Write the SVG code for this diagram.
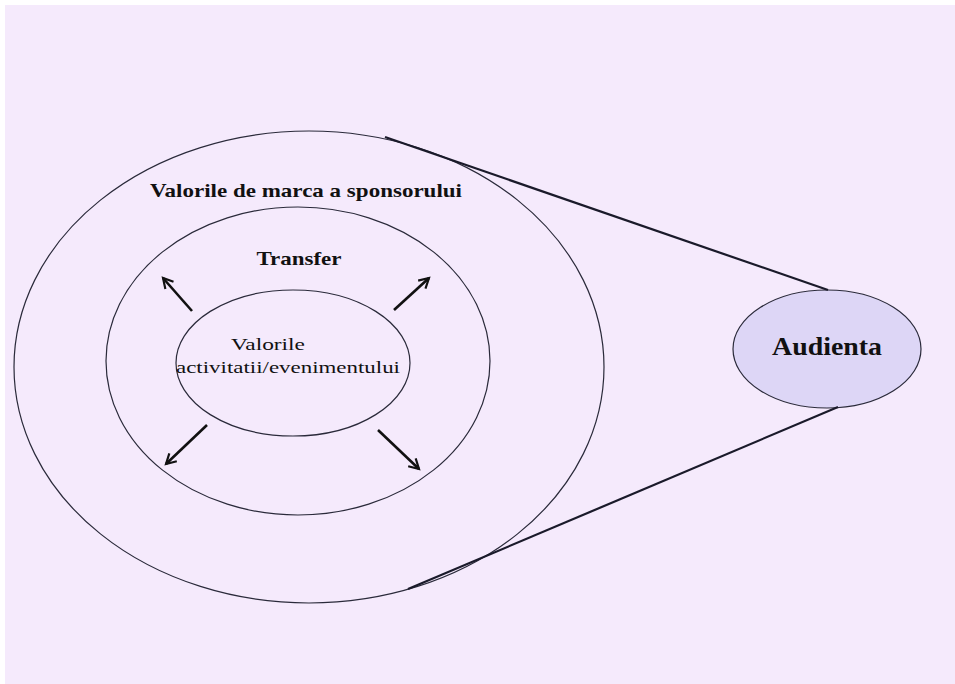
<svg xmlns="http://www.w3.org/2000/svg" width="955" height="684" viewBox="0 0 955 684">
<defs>
<style>
.ring{fill:none;stroke:#2a2a3a;stroke-width:1.2}
.conn{stroke:#1a1a2a;stroke-width:2.2;fill:none}
.arr{stroke:#111;stroke-width:2.6;fill:none;marker-end:url(#v)}
.b{font-family:"Liberation Serif","Times New Roman",serif;font-weight:bold;fill:#111}
.n{font-family:"Liberation Serif","Times New Roman",serif;fill:#111}
</style>
<marker id="v" viewBox="0 0 12 12" refX="10" refY="6" markerWidth="5" markerHeight="5" orient="auto" markerUnits="strokeWidth">
<polyline points="1,1 10,6 1,11" fill="none" stroke="#111" stroke-width="2"/>
</marker>
</defs>
<rect x="0" y="0" width="955" height="684" fill="#ffffff"/>
<rect x="5" y="5" width="950" height="679" fill="#f5eafc"/>
<g id="outer">
<ellipse class="ring" cx="309" cy="367" rx="295" ry="236"/>
<text class="b" x="306" y="197" font-size="19" text-anchor="middle" textLength="312" lengthAdjust="spacingAndGlyphs">Valorile de marca a sponsorului</text>
</g>
<g id="middle">
<ellipse class="ring" cx="298" cy="361" rx="192" ry="154"/>
<text class="b" x="299" y="265" font-size="19" text-anchor="middle" textLength="85" lengthAdjust="spacingAndGlyphs">Transfer</text>
</g>
<g id="inner">
<ellipse class="ring" cx="293" cy="363" rx="117" ry="73"/>
<text class="n" x="268" y="350" font-size="17" text-anchor="middle" textLength="74" lengthAdjust="spacingAndGlyphs">Valorile</text>
<text class="n" x="288" y="373" font-size="17" text-anchor="middle" textLength="224" lengthAdjust="spacingAndGlyphs">activitatii/evenimentului</text>
</g>
<g id="audienta">
<ellipse cx="827" cy="349" rx="94" ry="59" fill="#ddd6f6" stroke="#2a2a3a" stroke-width="1.2"/>
<text class="b" x="827" y="355" font-size="25" text-anchor="middle" textLength="110" lengthAdjust="spacingAndGlyphs">Audienta</text>
</g>
<g id="connectors">
<line class="conn" x1="385" y1="137" x2="828" y2="290"/>
<line class="conn" x1="408" y1="589" x2="838" y2="407"/>
<line class="arr" x1="192" y1="311" x2="163" y2="278"/>
<line class="arr" x1="394" y1="310" x2="429" y2="278"/>
<line class="arr" x1="207" y1="425" x2="166" y2="464"/>
<line class="arr" x1="378" y1="430" x2="419" y2="469"/>
</g>
</svg>
